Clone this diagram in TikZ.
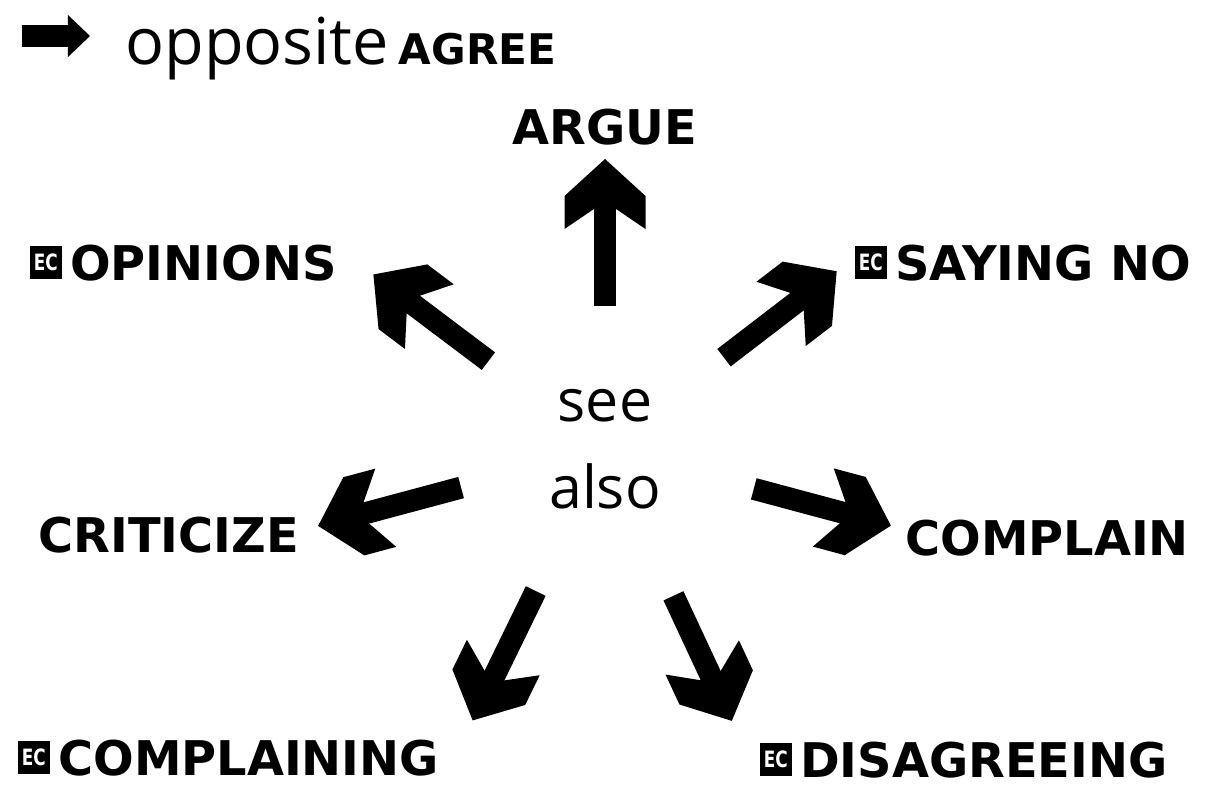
\documentclass[tikz,border=0pt]{standalone}
\usepackage{fontspec}
\setmainfont{Open Sans}
\newfontfamily\labfont{DejaVu Sans}
\usepackage{graphicx}
\usetikzlibrary{arrows.meta,positioning,calc}
\definecolor{ink}{HTML}{000000}

% broad chevron head of the spokes
\pgfdeclarearrow{
  name = Chevron,
  setup code = {
    \pgfarrowssettipend{0pt}
    \pgfarrowssetlineend{-28pt}
    \pgfarrowssetbackend{-49.8pt}
    \pgfarrowsupperhullpoint{0pt}{0pt}
    \pgfarrowsupperhullpoint{-26.3pt}{28.8pt}
    \pgfarrowsupperhullpoint{-49.8pt}{28.8pt}
  },
  drawing code = {
    \pgfpathmoveto{\pgfqpoint{0pt}{0pt}}
    \pgfpathlineto{\pgfqpoint{-26.3pt}{28.8pt}}
    \pgfpathlineto{\pgfqpoint{-49.8pt}{28.8pt}}
    \pgfpathlineto{\pgfqpoint{-35.5pt}{7.8pt}}
    \pgfpathlineto{\pgfqpoint{-35.5pt}{-7.8pt}}
    \pgfpathlineto{\pgfqpoint{-49.8pt}{-28.8pt}}
    \pgfpathlineto{\pgfqpoint{-26.3pt}{-28.8pt}}
    \pgfpathclose
    \pgfusepathqfill
  }
}

\tikzset{
  fatarrow/.style={ink,line width=0.55cm,line cap=butt,-{Chevron}},
  iconarrow/.style={ink,line width=0.57cm,line cap=butt,
    -{Triangle[length=0.55cm,width=1.05cm,line width=0pt]}},
  word/.style={ink,inner sep=0pt,font=\labfont\bfseries\fontsize{34}{38}\selectfont},
  ecbox/.style={fill=ink,text=white,inner sep=0pt,minimum width=0.8cm,minimum height=0.82cm,
    font=\labfont\bfseries\fontsize{16}{16}\selectfont},
}

\begin{document}
\begin{tikzpicture}[x=0.025cm,y=0.025cm]
  \useasboundingbox (0,0) rectangle (1209,792);
  % heading
  \coordinate (icon-a) at (22,756);
  \coordinate (icon-b) at (90,756);
  \draw[iconarrow] (icon-a) -- (icon-b);
  \node[ink,anchor=base west,inner sep=0pt,font=\fontsize{46}{50}\selectfont] (opp) at (125,727)
    {opposite\hspace{7pt}{\labfont\bfseries\fontsize{30}{30}\selectfont AGREE}};
  % centre
  \node[ink,align=center,inner sep=0pt,font=\fontsize{42}{62}\selectfont] (hub) at (605,343) {see\\also};
  % words round it
  \node[word,anchor=base] (argue) at (605,647) {ARGUE};
  \node[word,anchor=base west] (opin) at (70,512) {OPINIONS};
  \node[word,anchor=base west] (sayno) at (895,512) {SAYING NO};
  \node[word,anchor=base east] (crit) at (299,240) {CRITICIZE};
  \node[word,anchor=base west] (compl) at (905,237) {COMPLAIN};
  \node[word,anchor=base west] (complg) at (58,17) {COMPLAINING};
  \node[word,anchor=base west] (disag) at (800,15) {DISAGREEING};
  \foreach \n in {opin,sayno,complg,disag}
    \node[ecbox,left=0.2cm of \n] (ec-\n) {\scalebox{0.75}[1]{EC}};
  % spokes: name/angle/start/tip
  \foreach \n/\a/\r/\R in {argue/90/143/290, opin/143/146/290, sayno/37.5/150/292,
      crit/195/149/297, compl/-15/154/296, complg/-116/158/302, disag/-65/162/300}{
    \coordinate (from-\n) at ($(hub.center)+(\a:\r)$);
    \coordinate (to-\n) at ($(hub.center)+(\a:\R)$);
    \draw[fatarrow] (from-\n) -- (to-\n);}
\end{tikzpicture}
\end{document}
